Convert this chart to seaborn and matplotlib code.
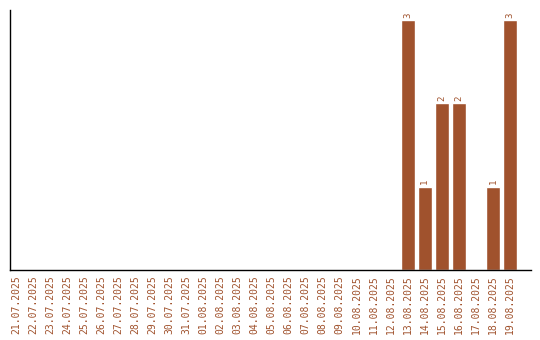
import matplotlib
matplotlib.use("Agg")
import matplotlib.pyplot as plt
import seaborn as sns
import pandas as pd

dates = ["21.07.2025", "22.07.2025", "23.07.2025", "24.07.2025", "25.07.2025",
         "26.07.2025", "27.07.2025", "28.07.2025", "29.07.2025", "30.07.2025",
         "31.07.2025", "01.08.2025", "02.08.2025", "03.08.2025", "04.08.2025",
         "05.08.2025", "06.08.2025", "07.08.2025", "08.08.2025", "09.08.2025",
         "10.08.2025", "11.08.2025", "12.08.2025", "13.08.2025", "14.08.2025",
         "15.08.2025", "16.08.2025", "17.08.2025", "18.08.2025", "19.08.2025"]
counts = [0, 0, 0, 0, 0, 0, 0, 0, 0, 0,
          0, 0, 0, 0, 0, 0, 0, 0, 0, 0,
          0, 0, 0, 3, 1, 2, 2, 0, 1, 3]

color = "#A0522D"
sns.set_style("white")
plt.rcParams['font.family'] = ['DejaVu Sans Mono', 'DejaVu Sans']

df = pd.DataFrame({"date": dates, "count": counts})
fig = plt.figure(figsize=(5.4, 3.4), dpi=100)
ax = fig.add_axes([10/540, 70/340, 521/540, 260/340])
sns.barplot(data=df, x="date", y="count", color=color, saturation=1, width=0.82, ax=ax)

for p, v in zip(ax.patches, counts):
    if v > 0:
        ax.text(p.get_x() + p.get_width() / 2, v + 0.03, str(v), rotation=90,
                ha="center", va="bottom", fontsize=6.5, color=color)

ax.set_ylim(0, 3.12)
ax.set_xlim(-0.38, len(dates) - 1 + 1.24)
ax.set_xlabel("")
ax.set_ylabel("")
ax.set_yticks([])
ax.tick_params(axis="x", length=0, pad=4, labelsize=7, labelcolor=color, rotation=90)
for s in ["top", "right"]:
    ax.spines[s].set_visible(False)
for s in ["left", "bottom"]:
    ax.spines[s].set_color("black")
    ax.spines[s].set_linewidth(1)

fig.savefig("out.png", dpi=100)
